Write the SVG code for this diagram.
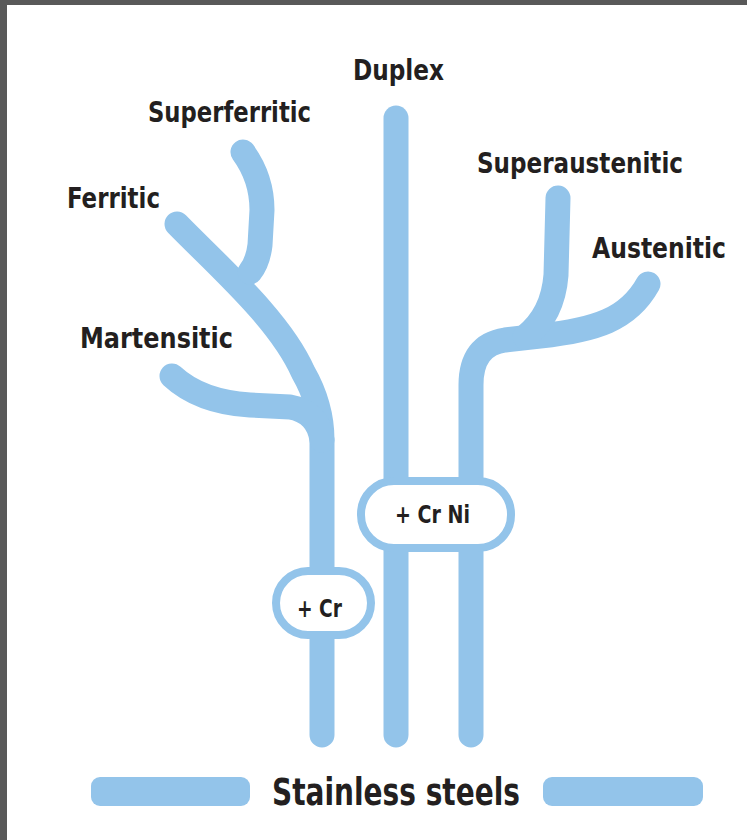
<svg xmlns="http://www.w3.org/2000/svg" width="747" height="840" viewBox="0 0 747 840">
<style>
.br{fill:none;stroke:#93c4ea;stroke-width:25;stroke-linecap:round;stroke-linejoin:round}
.box{fill:#fff;stroke:#93c4ea;stroke-width:8}
.bar{fill:#93c4ea}
.lbl{font-family:"DejaVu Sans Condensed","DejaVu Sans","Liberation Sans",sans-serif;font-weight:bold;fill:#231f20}
</style>
<rect x="0" y="0" width="747" height="840" fill="#fff"/>
<rect x="0" y="0" width="747" height="5" fill="#595959"/>
<rect x="0" y="0" width="7" height="840" fill="#595959"/>
<g id="connectors">
<path class="br" d="M177,224 C220,268 280,320 303,372 Q322,405 322,440 L322,735"/>
<path class="br" d="M243,152 Q262,178 262,210 L260,245 Q258,262 250,272"/>
<path class="br" d="M172,376 Q200,402 250,405 L290,407 Q318,412 322,440"/>
<path class="br" d="M396,118 L396,735"/>
<path class="br" d="M648,284 C628,320 595,330 540,336 L505,340 Q471,345 471,385 L471,735"/>
<path class="br" d="M558,198 L556,275 Q553,315 525,337"/>
</g>
<g id="node-superferritic"><text class="lbl" x="148" y="122" font-size="28" textLength="163" lengthAdjust="spacingAndGlyphs">Superferritic</text></g>
<g id="node-ferritic"><text class="lbl" x="67" y="208" font-size="28" textLength="93" lengthAdjust="spacingAndGlyphs">Ferritic</text></g>
<g id="node-martensitic"><text class="lbl" x="80" y="348" font-size="28" textLength="153" lengthAdjust="spacingAndGlyphs">Martensitic</text></g>
<g id="node-duplex"><text class="lbl" x="353" y="80" font-size="28" textLength="91" lengthAdjust="spacingAndGlyphs">Duplex</text></g>
<g id="node-superaustenitic"><text class="lbl" x="477" y="173" font-size="28" textLength="206" lengthAdjust="spacingAndGlyphs">Superaustenitic</text></g>
<g id="node-austenitic"><text class="lbl" x="592" y="258" font-size="28" textLength="134" lengthAdjust="spacingAndGlyphs">Austenitic</text></g>
<g id="node-crni">
<rect class="box" x="361" y="481" width="150" height="67" rx="33"/>
<text class="lbl" x="395" y="523" font-size="24" textLength="75" lengthAdjust="spacingAndGlyphs">+ Cr Ni</text>
</g>
<g id="node-cr">
<rect class="box" x="276" y="571" width="95" height="64" rx="32"/>
<text class="lbl" x="297" y="617" font-size="24" textLength="45" lengthAdjust="spacingAndGlyphs">+ Cr</text>
</g>
<g id="node-stainless">
<rect class="bar" x="91" y="777" width="159" height="29" rx="9"/>
<rect class="bar" x="543" y="777" width="160" height="29" rx="9"/>
<text class="lbl" x="272" y="805" font-size="37" textLength="248" lengthAdjust="spacingAndGlyphs">Stainless steels</text>
</g>
</svg>
